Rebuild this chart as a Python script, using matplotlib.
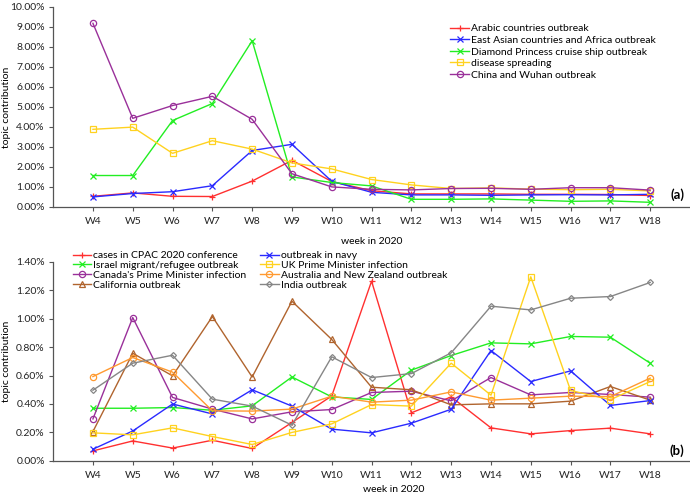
import numpy as np
import matplotlib.pyplot as plt
from matplotlib.ticker import FuncFormatter

plt.rcParams['font.family'] = ['Lato', 'DejaVu Sans']

weeks = ["W4", "W5", "W6", "W7", "W8", "W9", "W10", "W11",
         "W12", "W13", "W14", "W15", "W16", "W17", "W18"]

# --- panel (a): topic contribution in % ---
arabic      = [0.53, 0.70, 0.53, 0.52, 1.29, 2.33, 1.27, 0.81, 0.65, 0.65, 0.65, 0.63, 0.63, 0.62, 0.57]
east_asian  = [0.50, 0.67, 0.76, 1.06, 2.82, 3.13, 1.28, 0.73, 0.60, 0.60, 0.58, 0.60, 0.61, 0.60, 0.63]
diamond     = [1.57, 1.57, 4.32, 5.17, 8.31, 1.50, 1.22, 1.05, 0.38, 0.38, 0.40, 0.34, 0.28, 0.30, 0.23]
spreading   = [3.88, 3.99, 2.68, 3.31, 2.89, 2.20, 1.90, 1.37, 1.10, 0.92, 0.95, 0.89, 0.86, 0.88, 0.80]
china_wuhan = [9.18, 4.43, 5.07, 5.53, 4.38, 1.66, 1.00, 0.88, 0.85, 0.92, 0.93, 0.88, 0.96, 0.96, 0.84]

# --- panel (b): topic contribution in % ---
cpac       = [0.07, 0.14, 0.09, 0.145, 0.087, 0.27, 0.457, 1.264, 0.338, 0.45, 0.232, 0.19, 0.213, 0.23, 0.19]
navy       = [0.082, 0.21, 0.40, 0.33, 0.50, 0.385, 0.223, 0.197, 0.265, 0.363, 0.776, 0.558, 0.633, 0.39, 0.424]
israel     = [0.37, 0.37, 0.375, 0.356, 0.387, 0.59, 0.45, 0.432, 0.638, 0.741, 0.83, 0.823, 0.875, 0.87, 0.687]
uk_pm      = [0.197, 0.183, 0.232, 0.171, 0.115, 0.20, 0.26, 0.396, 0.385, 0.687, 0.462, 1.295, 0.495, 0.43, 0.558]
canada_pm  = [0.295, 1.008, 0.446, 0.364, 0.295, 0.345, 0.361, 0.481, 0.49, 0.422, 0.586, 0.464, 0.481, 0.467, 0.448]
aus_nz     = [0.593, 0.727, 0.624, 0.352, 0.35, 0.364, 0.455, 0.413, 0.427, 0.485, 0.427, 0.441, 0.455, 0.452, 0.582]
california = [0.206, 0.757, 0.598, 1.015, 0.59, 1.123, 0.854, 0.518, 0.50, 0.394, 0.401, 0.401, 0.42, 0.523, 0.427]
india      = [0.497, 0.687, 0.743, 0.434, 0.385, 0.251, 0.732, 0.586, 0.614, 0.76, 1.088, 1.062, 1.144, 1.156, 1.255]

RED, BLUE, GREEN = "#ff3030", "#2a2aff", "#22ee22"
YELLOW, PURPLE = "#ffd21f", "#9a309a"
ORANGE, BROWN, GREY = "#ff9a30", "#b0642e", "#868686"

FS = 7.5
x = np.arange(len(weeks))

fig = plt.figure(figsize=(6.9, 4.95), dpi=100)
ax1 = fig.add_axes([0.077, 0.582, 0.923, 0.404])
ax2 = fig.add_axes([0.077, 0.069, 0.923, 0.402])

def style(ax, top, step):
    ax.set_xlim(-1, 15)
    ax.set_ylim(0, top)
    ax.set_yticks(np.arange(0, top + step / 2, step))
    ax.yaxis.set_major_formatter(FuncFormatter(lambda v, p: f"{v:.2f}%"))
    ax.set_xticks(x)
    ax.set_xticklabels(weeks)
    for s in ("top", "right"):
        ax.spines[s].set_visible(False)
    for s in ("left", "bottom"):
        ax.spines[s].set_color("#555555")
        ax.spines[s].set_linewidth(0.9)
    ax.tick_params(axis="both", labelsize=FS, colors="#555555", labelcolor="#222222",
                   length=3, width=0.8)
    ax.tick_params(axis="x", pad=4)
    ax.tick_params(axis="y", pad=3)
    ax.set_ylabel("topic contribution", fontsize=FS)
    ax.yaxis.set_label_coords(-0.066, 0.5)

kw = dict(lw=1.0, ms=4.5, mfc="none", mew=0.9)

ax1.plot(x, arabic, "+-", color=RED, label="Arabic countries outbreak", **kw)
ax1.plot(x, east_asian, "x-", color=BLUE, label="East Asian countries and Africa outbreak", **kw)
ax1.plot(x, diamond, "x-", color=GREEN, label="Diamond Princess cruise ship outbreak", **kw)
ax1.plot(x, spreading, "s-", color=YELLOW, label="disease spreading", **kw)
ax1.plot(x, china_wuhan, "o-", color=PURPLE, label="China and Wuhan outbreak", **kw)
style(ax1, 10, 1)
ax1.set_xlabel("week in 2020", fontsize=FS)
ax1.xaxis.set_label_coords(0.5, -0.15)
ax1.legend(loc="upper left", bbox_to_anchor=(0.617, 0.935), frameon=False, fontsize=FS,
           handlelength=1.8, handletextpad=0.2, labelspacing=0.22, borderaxespad=0)
ax1.text(0.991, 0.03, "(a)", transform=ax1.transAxes, fontsize=9.5, fontweight="bold",
         ha="right", va="bottom")

ax2.plot(x, cpac, "+-", color=RED, label="cases in CPAC 2020 conference", **kw)
ax2.plot(x, israel, "x-", color=GREEN, label="Israel migrant/refugee outbreak", **kw)
ax2.plot(x, canada_pm, "o-", color=PURPLE, label="Canada's Prime Minister infection", **kw)
ax2.plot(x, california, "^-", color=BROWN, label="California outbreak", **kw)
ax2.plot(x, navy, "x-", color=BLUE, label="outbreak in navy", **kw)
ax2.plot(x, uk_pm, "s-", color=YELLOW, label="UK Prime Minister infection", **kw)
ax2.plot(x, aus_nz, "o-", color=ORANGE, label="Australia and New Zealand outbreak", **kw)
ax2.plot(x, india, "D-", color=GREY, label="India outbreak", lw=1.0, ms=3, mfc="none", mew=0.9)
style(ax2, 1.4, 0.2)
ax2.set_xlabel("week in 2020", fontsize=FS)
ax2.xaxis.set_label_coords(0.534, -0.12)
ax2.legend(loc="upper left", bbox_to_anchor=(0.024, 1.075), ncol=2, frameon=False, fontsize=FS,
           handlelength=1.8, handletextpad=0.2, labelspacing=0.04, columnspacing=1.3,
           borderaxespad=0)
ax2.text(0.991, 0.02, "(b)", transform=ax2.transAxes, fontsize=9.5, fontweight="bold",
         ha="right", va="bottom")

plt.savefig("out.png", dpi=100)
